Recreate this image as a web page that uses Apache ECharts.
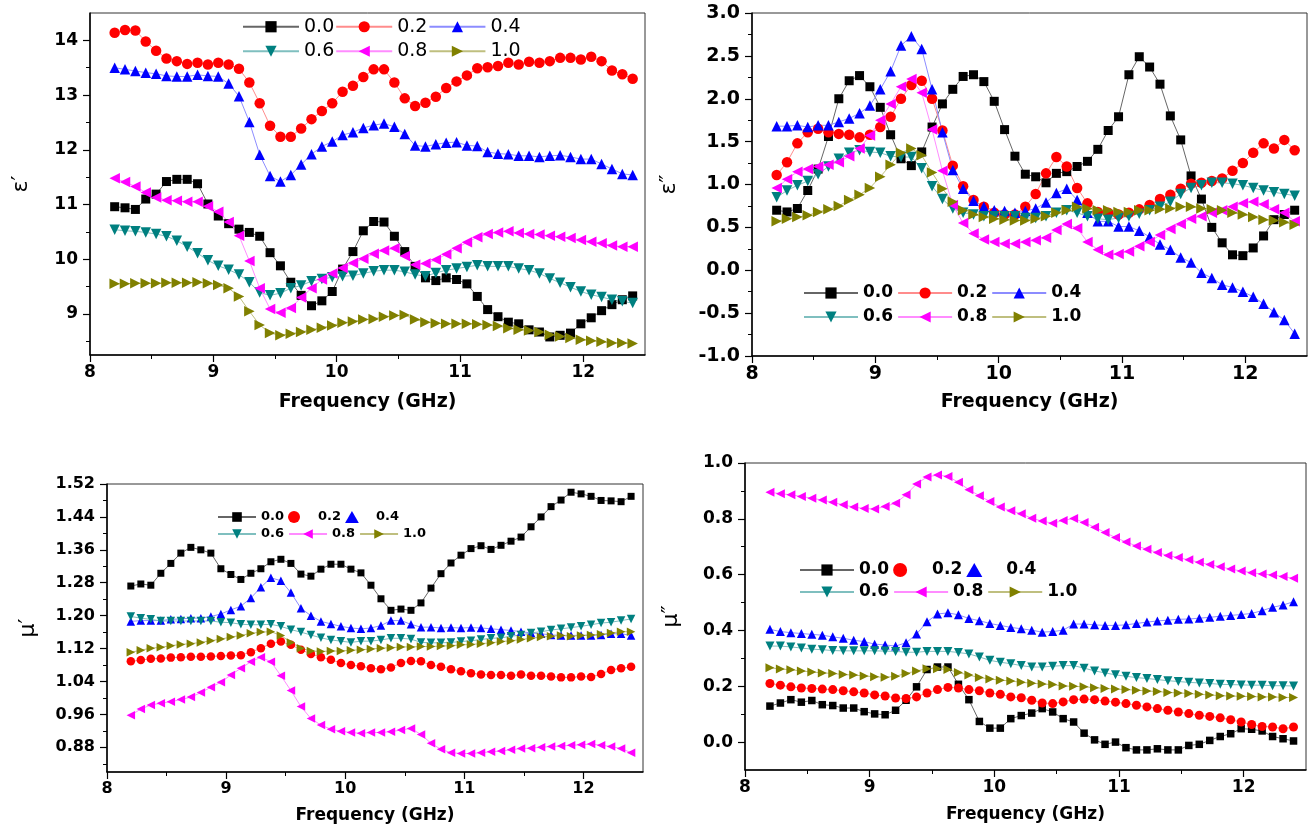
<!DOCTYPE html>
<html style="height: 100%">
<head>
  <meta charset="utf-8">
</head>
<body style="height: 100%; margin: 0; background: #fff">
<div id="container" style="width: 1315px; height: 830px"></div>
<script src="https://cdn.jsdelivr.net/npm/echarts@6/dist/echarts.min.js"></script>
<script>
// frequency points (GHz)
var freq = [8.200, 8.284, 8.368, 8.452, 8.536, 8.620, 8.704, 8.788, 8.872, 8.956,
  9.040, 9.124, 9.208, 9.292, 9.376, 9.460, 9.544, 9.628, 9.712, 9.796,
  9.880, 9.964, 10.048, 10.132, 10.216, 10.300, 10.384, 10.468, 10.552, 10.636,
  10.720, 10.804, 10.888, 10.972, 11.056, 11.140, 11.224, 11.308, 11.392, 11.476,
  11.560, 11.644, 11.728, 11.812, 11.896, 11.980, 12.064, 12.148, 12.232, 12.316, 12.400];

var names = ['0.0', '0.2', '0.4', '0.6', '0.8', '1.0'];

// epsilon' (top left)
var epsR_00 = [10.96,10.94,10.91,11.10,11.19,11.42,11.46,11.46,11.38,11.01,10.79,10.65,10.55,10.49,10.42,10.12,9.88,9.58,9.34,9.15,9.24,9.41,9.82,10.14,10.52,10.69,10.68,10.42,10.14,9.87,9.66,9.61,9.66,9.63,9.55,9.32,9.08,8.95,8.85,8.82,8.71,8.67,8.58,8.61,8.65,8.82,8.93,9.06,9.17,9.26,9.33];
var epsR_02 = [14.14,14.19,14.18,13.98,13.81,13.67,13.62,13.57,13.59,13.56,13.59,13.56,13.48,13.23,12.85,12.44,12.24,12.24,12.39,12.56,12.71,12.85,13.06,13.17,13.33,13.47,13.47,13.23,12.94,12.80,12.86,12.97,13.13,13.25,13.36,13.49,13.51,13.53,13.59,13.56,13.61,13.59,13.62,13.68,13.68,13.65,13.70,13.62,13.45,13.38,13.30];
var epsR_04 = [13.50,13.47,13.44,13.41,13.39,13.35,13.34,13.34,13.37,13.35,13.34,13.21,12.98,12.51,11.91,11.52,11.42,11.54,11.73,11.92,12.06,12.15,12.27,12.32,12.40,12.45,12.48,12.42,12.29,12.08,12.06,12.10,12.13,12.14,12.08,12.07,11.96,11.93,11.92,11.89,11.89,11.87,11.89,11.90,11.87,11.83,11.83,11.74,11.65,11.56,11.54];
var epsR_06 = [10.54,10.52,10.51,10.49,10.46,10.42,10.34,10.23,10.11,9.98,9.88,9.81,9.72,9.58,9.39,9.34,9.38,9.47,9.52,9.60,9.64,9.67,9.69,9.70,9.74,9.78,9.80,9.80,9.77,9.72,9.69,9.75,9.80,9.83,9.86,9.89,9.87,9.87,9.87,9.83,9.80,9.74,9.65,9.57,9.49,9.41,9.35,9.31,9.26,9.23,9.20];
var epsR_08 = [11.48,11.41,11.33,11.22,11.13,11.08,11.07,11.05,11.05,10.97,10.87,10.68,10.43,9.97,9.47,9.09,9.02,9.11,9.30,9.47,9.63,9.74,9.84,9.93,10.01,10.10,10.16,10.20,10.06,9.90,9.92,9.99,10.09,10.20,10.31,10.40,10.46,10.49,10.51,10.48,10.46,10.45,10.43,10.41,10.39,10.35,10.32,10.29,10.25,10.23,10.23];
var epsR_10 = [9.55,9.55,9.56,9.56,9.56,9.57,9.57,9.57,9.58,9.56,9.53,9.47,9.32,9.05,8.80,8.65,8.61,8.64,8.67,8.71,8.75,8.79,8.84,8.86,8.90,8.91,8.95,8.97,8.98,8.90,8.85,8.83,8.82,8.82,8.82,8.81,8.80,8.78,8.74,8.71,8.70,8.67,8.62,8.59,8.56,8.53,8.51,8.49,8.47,8.47,8.46];

// epsilon'' (top right)
var epsI_00 = [0.70,0.68,0.72,0.93,1.18,1.56,2.00,2.21,2.27,2.14,1.90,1.58,1.30,1.22,1.38,1.67,1.94,2.11,2.26,2.28,2.20,1.97,1.64,1.33,1.12,1.09,1.02,1.13,1.15,1.21,1.27,1.41,1.63,1.79,2.28,2.49,2.37,2.17,1.80,1.52,1.10,0.83,0.50,0.32,0.18,0.17,0.26,0.40,0.59,0.65,0.70];
var epsI_02 = [1.11,1.26,1.48,1.61,1.65,1.61,1.59,1.58,1.55,1.58,1.67,1.79,2.00,2.16,2.21,2.00,1.63,1.22,0.98,0.82,0.74,0.67,0.65,0.65,0.74,0.89,1.13,1.32,1.21,0.96,0.78,0.68,0.67,0.65,0.67,0.71,0.76,0.83,0.88,0.95,1.01,1.02,1.04,1.07,1.16,1.25,1.37,1.48,1.42,1.52,1.40];
var epsI_04 = [1.68,1.68,1.69,1.67,1.69,1.69,1.73,1.77,1.83,1.92,2.11,2.32,2.62,2.73,2.58,2.11,1.61,1.17,0.95,0.81,0.74,0.70,0.69,0.67,0.69,0.72,0.79,0.90,0.95,0.82,0.67,0.57,0.57,0.51,0.51,0.46,0.39,0.30,0.24,0.15,0.09,-0.03,-0.09,-0.17,-0.20,-0.25,-0.31,-0.39,-0.49,-0.58,-0.74];
var epsI_06 = [0.85,0.93,0.99,1.04,1.12,1.21,1.30,1.37,1.40,1.38,1.37,1.33,1.32,1.32,1.19,0.98,0.83,0.72,0.67,0.65,0.63,0.63,0.63,0.63,0.61,0.61,0.63,0.67,0.70,0.67,0.63,0.60,0.59,0.61,0.63,0.66,0.70,0.74,0.80,0.89,0.96,0.99,1.02,1.02,1.01,0.99,0.96,0.93,0.91,0.89,0.87];
var epsI_08 = [0.96,1.06,1.15,1.18,1.21,1.23,1.26,1.33,1.42,1.57,1.75,1.94,2.14,2.23,2.07,1.64,1.16,0.76,0.55,0.43,0.36,0.33,0.31,0.31,0.33,0.35,0.38,0.47,0.54,0.49,0.33,0.24,0.18,0.19,0.22,0.28,0.33,0.41,0.48,0.54,0.60,0.63,0.67,0.70,0.74,0.78,0.80,0.77,0.71,0.67,0.57];
var epsI_10 = [0.57,0.60,0.62,0.64,0.68,0.71,0.75,0.82,0.88,0.96,1.09,1.23,1.37,1.42,1.34,1.14,0.95,0.80,0.70,0.65,0.62,0.60,0.59,0.58,0.58,0.60,0.63,0.67,0.70,0.74,0.72,0.70,0.70,0.68,0.68,0.70,0.70,0.71,0.72,0.74,0.74,0.72,0.71,0.70,0.67,0.65,0.62,0.59,0.58,0.56,0.53];

// mu' (bottom left)
var muR_00 = [1.272,1.277,1.274,1.303,1.327,1.352,1.366,1.360,1.352,1.314,1.300,1.288,1.303,1.314,1.331,1.337,1.327,1.301,1.296,1.313,1.325,1.325,1.313,1.304,1.274,1.241,1.213,1.216,1.213,1.231,1.267,1.302,1.328,1.347,1.363,1.370,1.361,1.371,1.381,1.391,1.416,1.440,1.465,1.481,1.500,1.496,1.490,1.480,1.479,1.477,1.490];
var muR_02 = [1.089,1.092,1.095,1.096,1.098,1.099,1.100,1.100,1.101,1.102,1.103,1.104,1.111,1.121,1.132,1.137,1.129,1.117,1.107,1.099,1.093,1.085,1.080,1.077,1.072,1.070,1.074,1.085,1.090,1.089,1.080,1.076,1.070,1.065,1.060,1.057,1.056,1.056,1.054,1.057,1.054,1.054,1.052,1.050,1.050,1.052,1.051,1.058,1.068,1.072,1.076];
var muR_04 = [1.186,1.188,1.188,1.188,1.191,1.192,1.194,1.194,1.198,1.204,1.214,1.223,1.243,1.269,1.292,1.285,1.256,1.218,1.200,1.186,1.180,1.174,1.170,1.168,1.170,1.176,1.188,1.188,1.179,1.172,1.172,1.170,1.171,1.170,1.171,1.170,1.168,1.166,1.164,1.161,1.158,1.156,1.153,1.152,1.152,1.152,1.152,1.153,1.156,1.156,1.152];
var muR_06 = [1.198,1.194,1.191,1.187,1.187,1.187,1.187,1.187,1.187,1.184,1.183,1.179,1.178,1.178,1.179,1.174,1.166,1.160,1.153,1.146,1.141,1.138,1.135,1.138,1.138,1.141,1.145,1.145,1.143,1.135,1.134,1.134,1.135,1.137,1.139,1.142,1.145,1.146,1.150,1.153,1.158,1.161,1.165,1.168,1.171,1.174,1.178,1.182,1.184,1.188,1.192];
var muR_08 = [0.958,0.973,0.983,0.987,0.991,0.996,1.002,1.013,1.026,1.038,1.056,1.072,1.088,1.099,1.088,1.054,1.018,0.979,0.950,0.934,0.924,0.919,0.916,0.914,0.916,0.916,0.918,0.922,0.926,0.911,0.890,0.875,0.867,0.865,0.865,0.867,0.869,0.871,0.874,0.877,0.878,0.880,0.882,0.883,0.885,0.886,0.888,0.885,0.882,0.877,0.867];
var muR_10 = [1.111,1.116,1.121,1.123,1.127,1.130,1.132,1.135,1.139,1.143,1.148,1.152,1.157,1.160,1.161,1.152,1.135,1.121,1.114,1.113,1.114,1.114,1.116,1.117,1.119,1.121,1.122,1.124,1.124,1.125,1.125,1.126,1.127,1.129,1.130,1.132,1.134,1.137,1.139,1.142,1.145,1.148,1.150,1.152,1.150,1.152,1.153,1.155,1.158,1.161,1.161];

// mu'' (bottom right)
var muI_00 = [0.129,0.140,0.152,0.143,0.149,0.134,0.131,0.122,0.122,0.109,0.101,0.098,0.114,0.150,0.198,0.260,0.269,0.269,0.207,0.152,0.074,0.050,0.050,0.084,0.095,0.104,0.120,0.108,0.084,0.072,0.032,0.008,-0.008,0.000,-0.020,-0.028,-0.028,-0.024,-0.028,-0.028,-0.012,-0.008,0.006,0.020,0.030,0.048,0.046,0.040,0.020,0.012,0.004];
var muI_02 = [0.210,0.204,0.198,0.194,0.192,0.190,0.188,0.184,0.180,0.176,0.169,0.165,0.158,0.156,0.162,0.176,0.188,0.196,0.194,0.188,0.184,0.176,0.171,0.162,0.159,0.150,0.140,0.138,0.144,0.152,0.154,0.152,0.147,0.143,0.138,0.132,0.126,0.120,0.114,0.108,0.102,0.096,0.092,0.087,0.080,0.072,0.063,0.056,0.054,0.048,0.054];
var muI_04 = [0.404,0.396,0.392,0.389,0.386,0.383,0.377,0.372,0.365,0.360,0.351,0.348,0.344,0.356,0.387,0.431,0.459,0.463,0.456,0.443,0.435,0.425,0.418,0.411,0.406,0.401,0.394,0.396,0.401,0.423,0.423,0.420,0.418,0.418,0.420,0.425,0.430,0.434,0.437,0.440,0.441,0.444,0.447,0.451,0.454,0.457,0.461,0.471,0.483,0.491,0.503];
var muI_06 = [0.344,0.344,0.341,0.337,0.333,0.331,0.328,0.327,0.327,0.327,0.327,0.326,0.325,0.322,0.322,0.325,0.325,0.325,0.321,0.316,0.305,0.293,0.286,0.281,0.274,0.269,0.269,0.272,0.274,0.274,0.265,0.255,0.248,0.241,0.236,0.231,0.228,0.224,0.220,0.217,0.214,0.212,0.210,0.207,0.206,0.205,0.204,0.204,0.202,0.202,0.201];
var muI_08 = [0.895,0.890,0.886,0.880,0.874,0.867,0.859,0.850,0.842,0.837,0.835,0.844,0.856,0.886,0.925,0.950,0.957,0.952,0.931,0.904,0.883,0.862,0.842,0.829,0.818,0.802,0.792,0.784,0.794,0.801,0.787,0.770,0.751,0.733,0.717,0.703,0.691,0.679,0.669,0.661,0.653,0.644,0.636,0.628,0.620,0.613,0.607,0.602,0.599,0.593,0.587];
var muI_10 = [0.266,0.262,0.259,0.255,0.251,0.248,0.246,0.242,0.240,0.237,0.234,0.232,0.236,0.246,0.255,0.263,0.263,0.260,0.249,0.240,0.231,0.226,0.222,0.219,0.214,0.211,0.208,0.206,0.201,0.200,0.198,0.195,0.192,0.190,0.188,0.186,0.183,0.181,0.178,0.176,0.174,0.171,0.169,0.166,0.165,0.164,0.163,0.162,0.162,0.160,0.160];

// tick labels
var xTicks = [8, 9, 10, 11, 12];
var xMinor = [8.5, 9.5, 10.5, 11.5];
var epsRTicks = [9, 10, 11, 12, 13, 14];
var epsRMinor = [8.5, 9.5, 10.5, 11.5, 12.5, 13.5];
var epsITicks = [-1, -0.5, 0, 0.5, 1, 1.5, 2, 2.5, 3];
var epsIMinor = [-0.75, -0.25, 0.25, 0.75, 1.25, 1.75, 2.25, 2.75];
var muRTicks = [0.88, 0.96, 1.04, 1.12, 1.2, 1.28, 1.36, 1.44, 1.52];
var muRMinor = [0.84, 0.92, 1.0, 1.08, 1.16, 1.24, 1.32, 1.4, 1.48];
var muITicks = [0, 0.2, 0.4, 0.6, 0.8, 1.0];
var muIMinor = [0.1, 0.3, 0.5, 0.7, 0.9];

var colors = ['#000000', '#ff0000', '#0000ff', '#008080', '#ff00ff', '#808000'];
var lineColors = ['#666666', '#ff8c8c', '#8c8cff', '#7fbfbf', '#ff8cff', '#bfbf7f'];
var symbols = ['rect', 'circle', 'triangle',
  'path://M0,0L10,0L5,8.7Z',
  'path://M8.7,0L8.7,10L0,5Z',
  'path://M0,0L0,10L8.7,5Z'];
var triUp = 'path://M5,0L10,8.7L0,8.7Z';

var font = 'DejaVu Sans';

var panels = [
  { grid: {left: 90, top: 13, width: 555, height: 342},
    yMin: 8.25, yMax: 14.5, yTicks: epsRTicks, yMinor: epsRMinor, digits: 0,
    yName: 'ε′', nameGap: 58, tickFont: 17, titleFont: 19, titleGap: 38, sym: 9,
    data: [epsR_00, epsR_02, epsR_04, epsR_06, epsR_08, epsR_10],
    leg: {left: 242, top: 15, width: 290, itemWidth: 56, itemHeight: 14, itemGap: 1,
          fontSize: 19, fontWeight: 'normal', lineHeight: 23.5, bare: false} },
  { grid: {left: 752, top: 13, width: 555, height: 343},
    yMin: -1, yMax: 3, yTicks: epsITicks, yMinor: epsIMinor, digits: 1,
    yName: 'ε″', nameGap: 72, tickFont: 19, titleFont: 19, titleGap: 37, sym: 9,
    data: [epsI_00, epsI_02, epsI_04, epsI_06, epsI_08, epsI_10],
    leg: {left: 803, top: 283, width: 290, itemWidth: 54, itemHeight: 14, itemGap: 4,
          fontSize: 17, fontWeight: 'bold', lineHeight: 20, bare: false} },
  { grid: {left: 107, top: 484, width: 536, height: 288},
    yMin: 0.82, yMax: 1.52, yTicks: muRTicks, yMinor: muRMinor, digits: 2,
    yName: 'μ′', nameGap: 68, tickFont: 16, titleFont: 17, titleGap: 35, sym: 7,
    data: [muR_00, muR_02, muR_04, muR_06, muR_08, muR_10],
    leg: {left: 217, top: 510.5, width: 220, itemWidth: 38, itemHeight: 12, itemGap: 4,
          fontSize: 13, fontWeight: 'bold', lineHeight: 11, bare: true} },
  { grid: {left: 745, top: 463, width: 561, height: 307},
    yMin: -0.1, yMax: 1.0, yTicks: muITicks, yMinor: muIMinor, digits: 1,
    yName: 'μ″', nameGap: 63, tickFont: 17, titleFont: 17, titleGap: 36, sym: 7.5,
    data: [muI_00, muI_02, muI_04, muI_06, muI_08, muI_10],
    leg: {left: 799, top: 561, width: 290, itemWidth: 54, itemHeight: 14, itemGap: 4,
          fontSize: 17, fontWeight: 'bold', lineHeight: 18, bare: true} }
];

var grids = [], xAxes = [], yAxes = [], legends = [], series = [];

panels.forEach(function (p, k) {
  grids.push({
    left: p.grid.left, top: p.grid.top, width: p.grid.width, height: p.grid.height,
    show: true, borderColor: '#333', borderWidth: 1, backgroundColor: 'transparent',
    containLabel: false, outerBoundsMode: 'none'
  });
});

// main axes first (index 0..3), then minor-tick axes (4..7)
panels.forEach(function (p, k) {
  xAxes.push({
    type: 'value', gridIndex: k, min: 8, max: 12.5, position: 'bottom',
    name: 'Frequency (GHz)', nameLocation: 'middle', nameGap: p.titleGap,
    nameTextStyle: {fontFamily: font, fontWeight: 'bold', fontSize: p.titleFont, color: '#000'},
    axisLine: {show: true, onZero: false, lineStyle: {color: '#000', width: 1.5}},
    axisTick: {show: true, customValues: xTicks, length: 7, lineStyle: {color: '#000', width: 1.2}},
    axisLabel: {customValues: xTicks, margin: 9, fontFamily: font, fontWeight: 'bold',
                fontSize: p.tickFont, color: '#000'},
    splitLine: {show: false}
  });
  yAxes.push({
    type: 'value', gridIndex: k, min: p.yMin, max: p.yMax, position: 'left',
    name: p.yName, nameLocation: 'middle', nameGap: p.nameGap, nameRotate: 90,
    nameTextStyle: {fontFamily: font, fontSize: 22, color: '#000'},
    axisLine: {show: true, onZero: false, lineStyle: {color: '#000', width: 1.5}},
    axisTick: {show: true, customValues: p.yTicks, length: 7, lineStyle: {color: '#000', width: 1.2}},
    axisLabel: {customValues: p.yTicks, margin: 12, fontFamily: font, fontWeight: 'bold',
                fontSize: p.tickFont, color: '#000',
                formatter: function (v) { return v.toFixed(p.digits); }},
    splitLine: {show: false}
  });
});
panels.forEach(function (p, k) {
  xAxes.push({
    type: 'value', gridIndex: k, min: 8, max: 12.5, position: 'bottom',
    axisLine: {show: false, onZero: false},
    axisTick: {show: true, customValues: xMinor, length: 4, lineStyle: {color: '#000', width: 1}},
    axisLabel: {show: false}, splitLine: {show: false}
  });
  yAxes.push({
    type: 'value', gridIndex: k, min: p.yMin, max: p.yMax, position: 'left',
    axisLine: {show: false, onZero: false},
    axisTick: {show: true, customValues: p.yMinor, length: 4, lineStyle: {color: '#000', width: 1}},
    axisLabel: {show: false}, splitLine: {show: false}
  });
});

panels.forEach(function (p, k) {
  var L = p.leg;
  var items = names.map(function (n, j) {
    if (L.bare && j === 1) return {name: n, icon: 'circle'};
    if (L.bare && j === 2) return {name: n, icon: triUp};
    return {name: n};
  });
  legends.push({
    left: L.left, top: L.top, width: L.width, orient: 'horizontal', padding: 0,
    itemWidth: L.itemWidth, itemHeight: L.itemHeight, itemGap: L.itemGap,
    selectedMode: false, backgroundColor: 'transparent', symbolKeepAspect: true,
    textStyle: {fontFamily: font, fontSize: L.fontSize, fontWeight: L.fontWeight,
                color: '#000', lineHeight: L.lineHeight},
    data: items
  });

  p.data.forEach(function (arr, j) {
    series.push({
      type: 'line', name: names[j], xAxisIndex: k, yAxisIndex: k,
      data: freq.map(function (f, i) { return [f, arr[i]]; }),
      symbol: symbols[j], symbolSize: j === 0 ? p.sym : p.sym + 1.5,
      showSymbol: true, showAllSymbol: true,
      itemStyle: {color: colors[j]},
      lineStyle: {color: lineColors[j], width: 1},
      emphasis: {disabled: true},
      animation: false
    });
  });
});

var dom = document.getElementById('container');
var myChart = echarts.init(dom, null, {renderer: 'canvas'});
var option = {
  backgroundColor: '#fff',
  animation: false,
  grid: grids,
  xAxis: xAxes,
  yAxis: yAxes,
  legend: legends,
  series: series
};
myChart.setOption(option, true);
</script>
</body>
</html>
